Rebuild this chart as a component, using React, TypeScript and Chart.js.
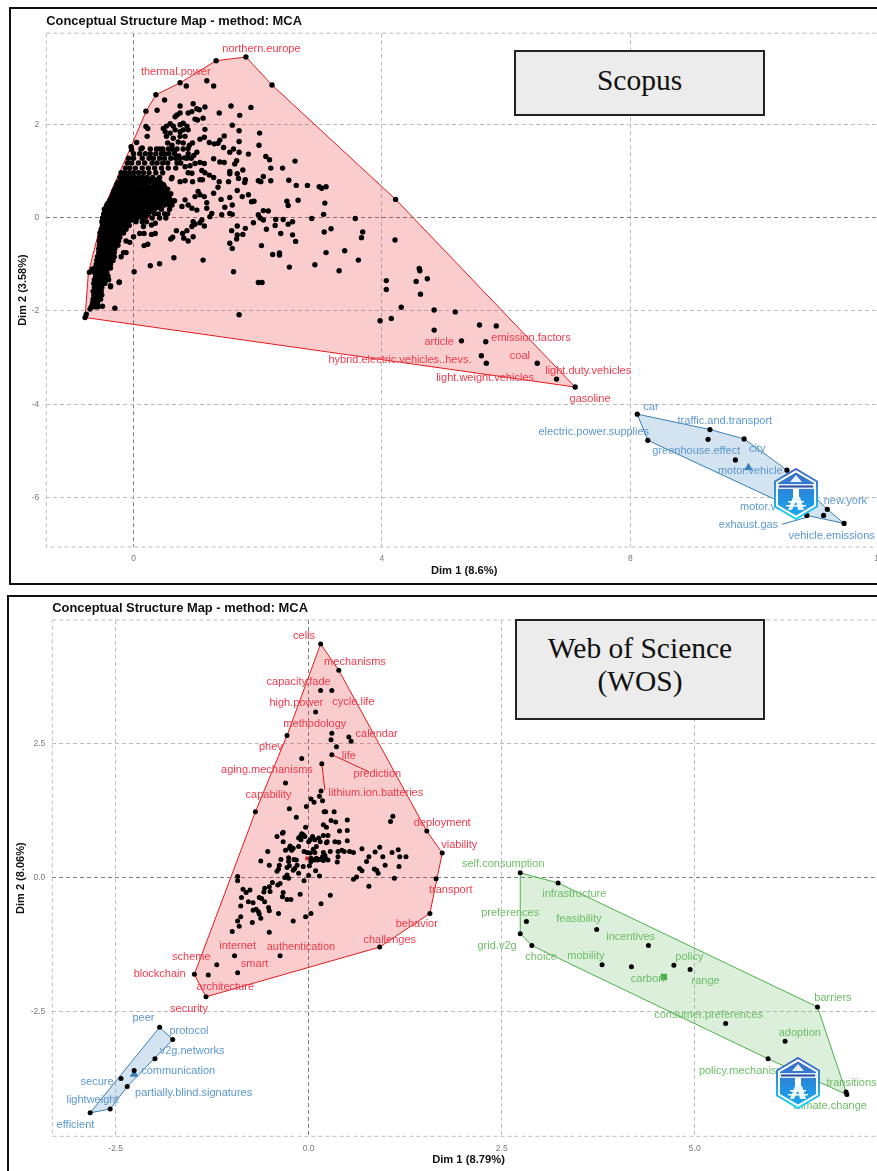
import React, { useEffect, useRef } from "react";
import { Chart, registerables } from "chart.js";
Chart.register(...registerables);

type Pt = [number, number];
type Lab = [string, number, number];

// ---------- Scopus map: cluster 1 (red) ----------
const scopusRedUpper: Pt[] = [[-0.78,-2.14],[-0.727,-1.19],[-0.443,0.31],[-0.04,1.52],[0.2,2.27],[0.36,2.63],[0.754,2.89],[1.33,3.36],[1.81,3.44],[2.23,2.84],[4.22,0.39],[7.11,-3.63]];
const scopusRedLower: Pt[] = [[-0.78,-2.14],[7.11,-3.63]];
const scopusSparse: Pt[] = [
[1.33,3.36],[1.81,3.44],[.75,2.89],[.85,2.82],[1.18,2.93],[1.29,2.82],[2.23,2.84],[.36,2.63],[.5,2.52],[.2,2.28],[.38,2.3],[.75,2.39],[.96,2.44],[1.15,2.37],[1.57,2.39],[1.89,2.36],[1.38,2.24],[1.71,2.19],[1.02,2.33],[1.06,2.31],[.94,2.27],[.88,2.24],[.7,2.2],[.75,2.24],[.67,2.16],[.99,2.11],[1.12,2.13],[1.03,2.09],[1.59,1.98],[1.7,1.86],[1.15,1.89],[2.03,1.81],[2.02,1.55],[.2,1.95],[.23,1.91],[.22,1.74],[.05,1.61],[-.04,1.52],[-.03,1.45],[.14,1.49],
[.48,1.91],[.53,1.96],[.59,2.01],[.64,1.96],[.51,1.84],[.59,1.81],[.67,1.88],[.75,1.99],[.8,2.02],[.86,1.96],[.88,1.88],[.8,1.88],[.75,1.84],[.53,1.74],[.64,1.7],[.75,1.74],[.83,1.74],[1.07,1.68],[1.14,1.72],[1.22,1.61],[1.3,1.58],[1.39,1.66],[1.46,1.75],[1.36,1.59],[1.45,1.5],[1.55,1.4],[1.61,1.47],[1.7,1.63],[1.7,1.4],[1.85,1.36],[2.13,1.31],[2.19,1.24],[2.6,1.21],[2.21,1.06],[2.4,1.06],[1.29,1.26],[1.39,1.19],[1.46,1.18],[1.66,1.22],[1.63,1.15],[1.55,.99],[1.55,.94],[1.67,.94],[1.69,.84],[1.76,1.02],[1.8,.81],[1.79,.75],[1.53,.77],
[2.01,.79],[2.05,.77],[2.09,.88],[2.21,.79],[2.5,.8],[2.62,.69],[2.8,.69],[2.99,.66],[3.03,.63],[3.1,.66],[3.08,.31],[3.06,.07],[4.22,.39],[2.65,.37],[2.47,.35],[2.49,.26],[1.9,.34],[1.94,.35],[1.85,.49],[1.75,.45],[1.67,.58],[1.55,.43],[1.59,.27],[1.41,.39],[1.29,.52],[1.36,.65],[1.18,.32],[1.38,.77],[1.29,.86],[1.22,.91],[1.15,.96],[1.1,1.01],[1.07,.81],[1.11,.81],[.95,.77],[.83,.79],[.75,.77],[.61,.83],[.88,.96],[.94,.95],[.83,1.09],[1.14,1.16],[1.07,1.18],[.99,1.16],[.91,1.11],[1.04,.56],[.99,.45],[1.07,.49],[1.14,.45],[.83,.38],[.78,.24],[.88,.27],[.94,.2],[1.02,.16],[1.18,.2],[1.26,.09],[1.23,.02],[1.42,.06],[1.47,.22],[1.55,.09],[1.59,.07],
[2.01,.06],[2.09,.15],[2.17,.14],[2.04,-.01],[2.09,-.05],[2.29,-.04],[2.41,-.04],[2.56,-.09],[2.49,-.14],[2.28,-.17],[2.14,-.25],[1.93,-.11],[1.8,-.23],[1.67,-.18],[1.58,-.28],[1.67,-.37],[1.66,-.46],[1.76,-.36],[2.37,-.34],[2.56,-.37],[2.61,-.51],[2.87,-.02],[3.57,-.02],[3.18,-.24],[3.07,-.31],[3.69,-.31],[3.67,-.43],[4.21,-.48],[1.55,-.55],[1.59,-.66],[2.06,-.6],[2.24,-.79],[2.35,-.76],[2.35,-.8],[3.1,-.75],[3.4,-.71],[3.62,-.91],[2.92,-1.01],[2.51,-1.06],[3.31,-1.14],[1.12,-.91],[1.61,-1.16],[.65,-.86],[.42,-.99],[.27,-1.03],[.01,-1.16],[2.01,-1.39],[2.07,-1.39],[-.23,-1.39],[-.37,-1.46],[4.07,-1.35],[4.07,-1.54],[4.55,-1.37],[4.6,-1.09],[4.61,-1.14],[4.73,-1.31],[4.62,-1.64],[.17,-.6],[.23,-.57],[.6,-.46],[.63,-.42],[.69,-.28],[.79,-.34],[.86,-.28],[.81,-.44],[.88,-.5],[.96,-.41],[.94,-.19],[.99,-.14],[1.14,-.18],[1.07,-.11],[.96,-.09],[1.1,-.05],[.16,-.19],[.21,-.09],[.29,-.16],[.35,-.12],[.1,-.34],[.17,-.34],[.29,-.36],[.35,-.34],[0,-.41],[-.06,-.53],
[5.18,-2.02],[5.57,-2.3],[5.84,-2.32],[5.28,-2.64],[5.67,-2.66],[5.6,-2.96],[5.68,-3.12],[6.5,-3.12],[6.81,-3.46],[7.11,-3.63],[1.7,-2.08],[3.97,-2.21],[4.15,-2.16],[4.31,-1.92],[4.84,-1.98],[4.84,-2.41],
[-.5,-1.9],[-.3,-1.94],[-.37,-1.48],[-.23,-1.38],[-.78,-2.14],[-.76,-2.07],[-.7,-1.96],[-.71,-1.17],[-.66,-1.1],
[.55,1.6],[.62,1.55],[.72,1.62],[.8,1.6],[.9,1.55],[.88,1.48],[.65,1.44],[.73,1.32],[.82,1.28],[.97,1.33],[1.02,1.4],[.95,1.6],
];
// Dense band of the same cluster, read row by row: [Dim 2, Dim 1 values]
const scopusDenseRows: [number, number[]][] = [
[1.47,[.12,.27,.37,.42,.47,.56,.62,.7,.8]],
[1.37,[.0,.1,.19,.27,.36,.45,.5,.57,.66,.88]],
[1.27,[-.08,.0,.14,.25,.32,.42,.5,.6,.68,.74,.86,.93]],
[1.17,[-.1,-.03,.08,.18,.3,.38,.47,.55,.7,.76]],
[1.06,[-.13,-.06,.03,.14,.24,.34,.45,.56,.68]],
[.96,[-.2,-.14,-.07,.0,.08,.16,.25,.36,.47]],
[.86,[-.22,-.16,-.1,-.04,.02,.09,.15,.22,.31,.42,.62]],
[.81,[-.2,-.12,-.05,.03,.12,.2,.28,.38]],
[.76,[-.25,-.19,-.13,-.07,-.01,.05,.11,.17,.24,.3,.36,.43]],
[.71,[-.27,-.2,-.12,-.04,.04,.14,.21,.33,.41,.48]],
[.66,[-.28,-.23,-.17,-.11,-.05,.01,.07,.13,.19,.25,.31,.38,.44,.5]],
[.61,[-.3,-.22,-.15,-.07,.0,.08,.16,.24,.31,.39,.46,.55]],
[.56,[-.32,-.26,-.2,-.14,-.08,-.02,.04,.1,.16,.22,.28,.34,.4,.47,.53]],
[.51,[-.33,-.24,-.18,-.09,-.03,.05,.12,.21,.27,.36,.44,.52,.6]],
[.46,[-.34,-.28,-.22,-.17,-.11,-.05,.01,.07,.13,.18,.24,.3,.36,.42,.48,.54]],
[.41,[-.36,-.27,-.2,-.12,-.04,.05,.11,.19,.28,.34,.4,.46,.52,.58]],
[.36,[-.38,-.3,-.25,-.19,-.13,-.08,-.02,.03,.09,.15,.2,.26,.31,.37,.43,.49,.55,.61,.66]],
[.31,[-.41,-.34,-.23,-.15,-.06,.02,.1,.17,.25,.33,.4,.47,.56]],
[.27,[-.43,-.38,-.32,-.27,-.22,-.16,-.11,-.05,.0,.06,.12,.18,.24,.3,.36,.42,.5,.58,.62]],
[.22,[-.44,-.36,-.28,-.2,-.1,-.01,.08,.15,.22,.29,.39]],
[.18,[-.47,-.41,-.36,-.3,-.25,-.19,-.13,-.08,-.03,.04,.1,.18,.26,.34,.45,.58]],
[.13,[-.46,-.39,-.33,-.23,-.15,-.06,.03,.13,.21,.3]],
[.08,[-.48,-.42,-.37,-.31,-.26,-.2,-.14,-.09,-.04,.02,.1,.16,.24,.34,.4,.5,.55]],
[.03,[-.47,-.4,-.29,-.18,-.07,.01,.09,.2]],
[-.01,[-.5,-.45,-.39,-.33,-.28,-.22,-.17,-.11,-.06,-.02,.06,.15,.3,.42,.52]],
[-.05,[-.49,-.42,-.31,-.2,-.1,-.03]],
[-.09,[-.51,-.46,-.4,-.35,-.29,-.24,-.18,-.13,-.08,.04,.14]],
[-.13,[-.48,-.37,-.26,-.15]],
[-.17,[-.5,-.44,-.38,-.33,-.27,-.21,-.16,-.11,-.07]],
[-.21,[-.49,-.39,-.28,-.18]],
[-.25,[-.52,-.47,-.41,-.36,-.3,-.25,-.2,-.15,-.12]],
[-.29,[-.5,-.39,-.28,-.18]],
[-.33,[-.54,-.48,-.43,-.37,-.32,-.26,-.21,-.16]],
[-.38,[-.51,-.4,-.3,-.24]],
[-.42,[-.54,-.49,-.44,-.38,-.33,-.28,-.22]],
[-.46,[-.52,-.42,-.31]],
[-.5,[-.55,-.5,-.45,-.39,-.34,-.29,-.24,-.12]],
[-.55,[-.52,-.41,-.31]],
[-.59,[-.55,-.5,-.44,-.39,-.33,-.28,-.25]],
[-.63,[-.53,-.42,-.32]],
[-.67,[-.56,-.51,-.46,-.4,-.35,-.3]],
[-.71,[-.53,-.43,-.33]],
[-.75,[-.56,-.5,-.45,-.41,-.36,-.31,-.16,-.12]],
[-.8,[-.55,-.44,-.34]],
[-.84,[-.58,-.53,-.47,-.42,-.37,-.31,-.2]],
[-.88,[-.56,-.46,-.36]],
[-.92,[-.59,-.54,-.49,-.44,-.38,-.33]],
[-.96,[-.57,-.47,-.39]],
[-1.0,[-.6,-.55,-.5,-.46,-.41,-.37]],
[-1.08,[-.62,-.57,-.52,-.47,-.42,-.37]],
[-1.17,[-.63,-.58,-.53,-.48,-.43]],
[-1.25,[-.61,-.56,-.51,-.47,-.41]],
[-1.33,[-.63,-.58,-.53,-.49,-.44,-.4]],
[-1.41,[-.64,-.59,-.54,-.5,-.46]],
[-1.5,[-.63,-.59,-.55,-.51]],
[-1.58,[-.65,-.6,-.56,-.52]],
[-1.66,[-.64,-.6,-.55,-.51]],
[-1.75,[-.65,-.61,-.57,-.53]],
[-1.83,[-.66,-.62,-.58]],
[-1.91,[-.68,-.64,-.6,-.57]],
];
const scopusRedCentre: Pt[] = [[.24,.02]];
const scopusRedLabels: Lab[] = [["northern.europe",2.06,3.61],["thermal.power",.68,3.11],["article",4.92,-2.66],["emission.factors",6.4,-2.58],["coal",6.22,-2.96],["hybrid.electric.vehicles..hevs.",4.29,-3.05],["light.duty.vehicles",7.32,-3.28],["light.weight.vehicles",5.66,-3.43],["gasoline",7.35,-3.88]];

// ---------- Scopus map: cluster 2 (blue) ----------
const scopusBlueUpper: Pt[] = [[8.11,-4.21],[9.28,-4.54],[9.83,-4.74],[10.52,-5.41],[11.17,-6.25],[11.44,-6.55]];
const scopusBlueLower: Pt[] = [[8.11,-4.21],[8.28,-4.77],[10.3,-6.02],[10.84,-6.38],[11.44,-6.55]];
const scopusBluePoints: Pt[] = [[8.11,-4.21],[9.28,-4.54],[9.83,-4.74],[9.25,-4.75],[8.28,-4.77],[9.69,-5.19],[11.17,-6.25],[11.11,-6.38],[10.84,-6.38],[11.44,-6.55],[10.52,-5.41]];
const scopusBlueCentre: Pt[] = [[9.9,-5.36]];
const scopusBlueLabels: Lab[] = [["car",8.33,-4.06],["traffic.and.transport",9.52,-4.36],["electric.power.supplies",7.41,-4.59],["greenhouse.effect",9.06,-5.0],["city",10.04,-4.96],["motor.vehicle",9.93,-5.43],["motor.vehicles",10.33,-6.2],["new.york",11.46,-6.06],["exhaust.gas",9.9,-6.59],["vehicle.emissions",11.24,-6.81]];
const scopusBlueLeader: Pt[] = [[10.44,-6.57],[10.84,-6.42]];

// ---------- WoS map: cluster 1 (red) ----------
const wosRedUpper: Pt[] = [[-1.48,-1.81],[-.69,1.23],[-.28,2.66],[.155,4.37],[.39,3.88],[1.53,.87],[1.73,.46]];
const wosRedLower: Pt[] = [[-1.48,-1.81],[-1.33,-2.23],[.92,-1.3],[1.57,-.67],[1.73,.46]];
const wosRedPoints: Pt[] = [
[.155,4.37],[.39,3.88],[.155,3.5],[.3,3.5],[.09,3.1],[-.28,2.66],[.3,2.7],[.29,2.58],[.52,2.63],[.55,2.55],[.36,2.45],[.3,2.3],[-.09,2.23],[.17,2.13],[-.3,1.77],[.16,1.62],[.14,1.52],[.18,1.44],[.03,1.47],[.07,1.41],[-.03,1.33],[-.25,1.29],[-.69,1.23],[.2,1.23],[.22,1.23],[.33,1.23],[-.16,1.13],[.29,1.07],[.35,1.04],[.5,1.08],[1.09,1.15],[1.06,1.05],[1.53,.87],[1.73,.46],
[-.04,.94],[.19,.99],[.23,.94],[.4,.87],[.5,.88],[-.33,.85],[-.34,.83],[-.41,.77],[-.33,.67],[-.09,.82],[-.11,.77],[-.13,.74],[-.07,.8],[-.05,.77],[.05,.77],[.02,.71],[0,.67],[.08,.71],[.19,.79],[.25,.79],[-.1,.71],[.15,.67],[.13,.74],[.23,.65],[.24,.67],[.34,.67],[.39,.66],[.5,.69],[.1,.58],[.06,.53],[-.24,.59],[-.25,.55],[-.2,.55],[-.3,.51],[-.22,.51],[-.13,.58],[-.53,.49],[-.06,.49],[-.02,.47],[.02,.46],[.08,.47],[.19,.47],[.21,.42],[.28,.49],[.18,.39],[.22,.36],[.25,.33],[.19,.32],[.14,.34],[.38,.49],[.43,.51],[.46,.49],[.53,.49],[.58,.47],[.69,.54],[.38,.39],[.37,.29],[.86,.48],[.92,.57],[.96,.39],[.78,.39],[.75,.3],[1.08,.47],[1.16,.52],[1.18,.39],[1.26,.39],[1.17,.21],[.99,.23],[.85,.16],[.88,.14],[.9,.08],[.66,.17],[.69,.13],[.62,.01],[.58,-.03],[1.11,-.01],[1.65,-.02],[.78,-.16],[.28,-.33],[.16,-.49],
[-.26,.37],[-.26,.3],[-.19,.34],[-.16,.33],[-.36,.34],[-.38,.23],[-.62,.31],[-.51,.23],[-.25,.22],[-.28,.19],[-.39,.16],[-.41,.12],[-.15,.23],[-.18,.17],[-.2,.14],[-.07,.21],[.01,.22],[.03,.36],[.07,.33],[.1,.36],[.03,.3],[.11,.33],[.09,.13],[.14,.03],[0,.04],[-.06,-.06],[-.13,.08],[-.28,.05],[-.31,0],[-.26,-.01],[-.92,.02],[-.92,-.06],[-.47,-.09],[-.51,-.17],[-.37,-.11],[-.4,-.14],[-.57,-.2],[-.58,-.27],[-.5,-.26],[-.85,-.22],[-.81,-.28],[-.76,-.23],[-.87,-.37],[-.33,-.28],[-.34,-.36],[-.28,-.41],[-.23,-.41],[-.11,-.31],[-.64,-.37],[-.61,-.39],[-.57,-.45],[-.78,-.45],[-.72,-.47],[-.88,-.53],[-.52,-.56],[-.51,-.62],[-.72,-.61],[-.68,-.59],[-.65,-.64],[-.64,-.68],[-.62,-.76],[-.39,-.67],[.03,-.67],[-.04,-.73],[-.2,-.81],[-.88,-.73],[-.92,-.81],[-.9,-.91],[-.73,-.84],[-.99,-1.01],[-.51,-1.02],
[1.57,-.67],[.92,-1.3],[-.37,-1.46],[-.96,-1.46],[-1.19,-1.63],[-.92,-1.78],[-1.3,-1.82],[-1.48,-1.81],[-1.33,-2.23],
];
const wosRedCentre: Pt[] = [[-.02,.36]];
const wosRedLabels: Lab[] = [["cells",-.06,4.53],["mechanisms",.6,4.03],["capacity.fade",-.13,3.66],["high.power",-.16,3.26],["cycle.life",.58,3.28],["methodology",.08,2.88],["calendar",.88,2.69],["phev",-.49,2.44],["life",.52,2.28],["aging.mechanisms",-.54,2.01],["prediction",.89,1.94],["lithium.ion.batteries",.87,1.59],["capability",-.52,1.55],["deployment",1.73,1.03],["viability",1.95,.61],["transport",1.84,-.23],["behavior",1.4,-.86],["challenges",1.05,-1.17],["internet",-.92,-1.27],["authentication",-.1,-1.29],["scheme",-1.52,-1.49],["smart",-.7,-1.62],["blockchain",-1.93,-1.81],["architecture",-1.08,-2.04],["security",-1.55,-2.46]];
const wosPredictionLeader: Pt[] = [[.3,2.3],[.78,1.98]];
const wosLithiumLeader: Pt[] = [[.17,2.13],[.21,1.64]];

// ---------- WoS map: cluster 2 (blue) ----------
const wosBlueUpper: Pt[] = [[-2.83,-4.4],[-1.93,-2.8],[-1.76,-3.03]];
const wosBlueLower: Pt[] = [[-2.83,-4.4],[-2.57,-4.33],[-2.35,-3.91],[-1.76,-3.03]];
const wosBluePoints: Pt[] = [[-1.93,-2.8],[-1.76,-3.03],[-1.99,-3.39],[-2.26,-3.61],[-2.43,-3.76],[-2.35,-3.91],[-2.57,-4.33],[-2.83,-4.4]];
const wosBlueCentre: Pt[] = [[-2.26,-3.68]];
const wosBlueLabels: Lab[] = [["peer",-2.14,-2.63],["protocol",-1.55,-2.87],["v2g.networks",-1.51,-3.25],["communication",-1.69,-3.61],["secure",-2.74,-3.82],["partially.blind.signatures",-1.49,-4.02],["lightweight",-2.8,-4.16],["efficient",-3.02,-4.63]];

// ---------- WoS map: cluster 3 (green) ----------
const wosGreenUpper: Pt[] = [[2.74,-1.05],[2.74,.09],[3.23,-.1],[6.59,-2.42],[6.97,-4.06]];
const wosGreenLower: Pt[] = [[2.74,-1.05],[2.89,-1.27],[5.95,-3.39],[6.97,-4.06]];
const wosGreenPoints: Pt[] = [[2.74,.09],[3.23,-.1],[2.82,-.82],[2.74,-1.05],[2.89,-1.27],[3.73,-.97],[4.4,-1.27],[3.8,-1.63],[4.18,-1.67],[4.73,-1.64],[4.94,-1.72],[5.4,-2.73],[5.95,-3.39],[6.17,-3.06],[6.59,-2.42],[6.96,-4.01],[6.97,-4.06]];
const wosGreenCentre: Pt[] = [[4.6,-1.86]];
const wosGreenLabels: Lab[] = [["self.consumption",2.52,.26],["infrastructure",3.44,-.31],["preferences",2.61,-.67],["feasibility",3.5,-.78],["incentives",4.17,-1.11],["grid.v2g",2.44,-1.27],["choice",3.01,-1.49],["mobility",3.59,-1.47],["policy",4.93,-1.49],["carbon",4.39,-1.89],["range",5.14,-1.93],["consumer.preferences",5.18,-2.57],["barriers",6.79,-2.25],["adoption",6.36,-2.9],["policy.mechanisms",5.65,-3.61],["transitions",7.03,-3.85],["climate.change",6.75,-4.28]];

// ---------- Ticks and titles ----------
const scopusXTicks = [0, 4, 8, 12];
const scopusYTicks = [-6, -4, -2, 0, 2];
const wosXTicks = [-2.5, 0, 2.5, 5];
const wosYTicks = [-2.5, 0, 2.5];
const chartTitle = "Conceptual Structure Map - method: MCA";
const scopusAxisTitles = ["Dim 1 (8.6%)", "Dim 2 (3.58%)"];
const wosAxisTitles = ["Dim 1 (8.79%)", "Dim 2 (8.06%)"];

const RED = "#e41a1c", BLUE = "#377eb8", GREEN = "#4daf4a";
const TXT_RED = "#f23a4c", TXT_BLUE = "#5c98d0", TXT_GREEN = "#6dbd66";
const FILL_RED = "rgba(228,26,28,0.22)", FILL_BLUE = "rgba(55,126,184,0.22)", FILL_GREEN = "rgba(77,175,74,0.2)";
const FONT = '"Liberation Sans", Arial, sans-serif';

const xy = (p: Pt[]) => p.map(([x, y]) => ({ x, y }));

const hull = (up: Pt[], low: Pt[], line: string, fill: string) => [
  { data: xy(up), showLine: true, pointRadius: 0, borderColor: line, borderWidth: 1, tension: 0, fill: "+1", backgroundColor: fill, order: 9 },
  { data: xy(low), showLine: true, pointRadius: 0, borderColor: line, borderWidth: 1, tension: 0, fill: false, order: 9 },
];
const dots = (p: Pt[], r: number) => ({ data: xy(p), pointRadius: r, pointHoverRadius: r, pointBackgroundColor: "#000", pointBorderWidth: 0, order: 3 });
const marker = (p: Pt[], color: string, style: string, r: number) => ({ data: xy(p), pointStyle: style, pointRadius: r, pointBackgroundColor: color, pointBorderWidth: 0, order: 4 });
const leader = (p: Pt[], color: string) => ({ data: xy(p), showLine: true, pointRadius: 0, borderColor: color, borderWidth: 1, tension: 0, fill: false, order: 6 });

const framePlugin = {
  id: "frame",
  beforeDatasetsDraw(c: any) {
    const { ctx, chartArea: a } = c;
    ctx.save();
    ctx.strokeStyle = "#bdbdbd";
    ctx.lineWidth = 1;
    ctx.setLineDash([4, 3]);
    ctx.strokeRect(a.left, a.top, a.right - a.left, a.bottom - a.top);
    ctx.restore();
  },
};
const labelPlugin = (groups: [Lab[], string][]) => ({
  id: "words",
  afterDatasetsDraw(c: any) {
    const { ctx, scales } = c;
    ctx.save();
    ctx.font = `11px ${FONT}`;
    ctx.textAlign = "center";
    ctx.textBaseline = "middle";
    for (const [labels, color] of groups) {
      ctx.fillStyle = color;
      for (const [t, x, y] of labels) ctx.fillText(t, scales.x.getPixelForValue(x), scales.y.getPixelForValue(y));
    }
    ctx.restore();
  },
});

interface MapProps {
  left: number; top: number; width: number; height: number;
  datasets: any[]; groups: [Lab[], string][];
  xr: [number, number]; yr: [number, number]; xTicks: number[]; yTicks: number[]; dec: number;
  axisLeft: number; axisBottom: number; padRight: number; titleTop: number; titleBottom: number;
  axisTitles: string[];
}

function MapChart(p: MapProps) {
  const ref = useRef<HTMLCanvasElement>(null);
  useEffect(() => {
    const fmt = (v: any) => Number(v).toFixed(p.dec);
    const gridColor = (ctx: any) => (ctx.tick && ctx.tick.value === 0 ? "#808080" : "#bdbdbd");
    const chart = new Chart(ref.current as HTMLCanvasElement, {
      type: "scatter",
      data: { datasets: p.datasets },
      plugins: [framePlugin, labelPlugin(p.groups)],
      options: {
        animation: false,
        responsive: false,
        devicePixelRatio: 1,
        layout: { padding: { right: p.padRight, left: 0, top: 0, bottom: 0 } },
        plugins: {
          legend: { display: false },
          tooltip: { enabled: false },
          title: {
            display: true, text: chartTitle, align: "start", fullSize: false, color: "#111",
            font: { family: FONT, size: 12.9, weight: "bold", lineHeight: 1.1 },
            padding: { top: p.titleTop, bottom: p.titleBottom },
          },
        },
        scales: {
          x: {
            type: "linear", min: p.xr[0], max: p.xr[1], bounds: "data",
            afterBuildTicks: (s: any) => { s.ticks = p.xTicks.map((value) => ({ value })); },
            grid: { color: gridColor, lineWidth: 1, drawTicks: false },
            border: { display: false, dash: [4, 3] },
            ticks: { autoSkip: false, maxRotation: 0, padding: 7, color: "#7a7a7a", font: { family: FONT, size: 8.5 }, callback: fmt },
            title: { display: true, text: p.axisTitles[0], color: "#111", font: { family: FONT, size: 11.2, weight: "bold", lineHeight: 1 }, padding: { top: 0, bottom: 6 } },
            afterFit: (s: any) => { s.height = p.axisBottom; },
          },
          y: {
            type: "linear", min: p.yr[0], max: p.yr[1], bounds: "data",
            afterBuildTicks: (s: any) => { s.ticks = p.yTicks.map((value) => ({ value })); },
            grid: { color: gridColor, lineWidth: 1, drawTicks: false },
            border: { display: false, dash: [4, 3] },
            ticks: { autoSkip: false, padding: 7, color: "#7a7a7a", font: { family: FONT, size: 8.5 }, callback: fmt },
            title: { display: true, text: p.axisTitles[1], color: "#111", font: { family: FONT, size: 11, weight: "bold", lineHeight: 1 }, padding: { top: 6, bottom: 0 } },
            afterFit: (s: any) => { s.width = p.axisLeft; },
          },
        },
      } as any,
    } as any);
    return () => chart.destroy();
  }, []);
  return <canvas ref={ref} width={p.width} height={p.height} style={{ position: "absolute", left: p.left, top: p.top, width: p.width, height: p.height, display: "block", filter: "blur(0.35px)" }} />;
}

function Logo({ cx, cy, id }: { cx: number; cy: number; id: string }) {
  return (
    <svg width={46} height={52} viewBox="0 0 46 52" style={{ position: "absolute", left: cx - 23, top: cy - 26 }}>
      <defs>
        <linearGradient id={id + "a"} x1="0" y1="0" x2="0" y2="1">
          <stop offset="0" stopColor="#3f63c0" /><stop offset="1" stopColor="#16d3fb" />
        </linearGradient>
        <linearGradient id={id + "b"} x1="0" y1="0" x2="0" y2="1">
          <stop offset="0" stopColor="#3c6cc9" /><stop offset="1" stopColor="#15a8f0" />
        </linearGradient>
      </defs>
      <polygon points="23,1 44,13.5 44,38.5 23,51 2,38.5 2,13.5" fill="#fff" stroke={`url(#${id}a)`} strokeWidth="2" />
      <polygon points="23,4.5 41,15 41,37 23,47.5 5,37 5,15" fill={`url(#${id}b)`} />
      <rect x="4" y="16" width="38" height="5" fill="#dfe9f8" />
      <rect x="6" y="17.5" width="34" height="2" fill="#2b4f9e" />
      <polygon points="23,7 29,14 17,14" fill="#e8f2ff" />
      <rect x="20" y="21" width="6" height="8" fill="#ffffff" />
      <polygon points="20,29 27,29 31,42 25,42 23,33 19,42 15,42" fill="#e8f4ff" />
      <rect x="15" y="33" width="16" height="1.5" fill="#fff" />
      <rect x="13" y="37" width="20" height="1.5" fill="#fff" />
    </svg>
  );
}

const panelBox = (left: number, top: number, height: number): React.CSSProperties => ({
  position: "absolute", left, top, width: 900, height, border: "2px solid #111", boxSizing: "border-box", background: "#fff",
});
const noteBox = (left: number, top: number, w: number, h: number, shift: number): React.CSSProperties => ({
  position: "absolute", left, top, width: w, height: h, boxSizing: "border-box", border: "2px solid #222", background: "#ececec", paddingBottom: shift,
  display: "flex", alignItems: "center", justifyContent: "center", textAlign: "center",
  fontFamily: '"Liberation Serif", "Times New Roman", serif', fontSize: 29.5, lineHeight: "33px", color: "#111",
});

export default function App() {
  const scopusAll: Pt[] = [...scopusSparse, ...scopusDenseRows.flatMap(([y, xs]) => xs.map((x) => [x, y] as Pt))];
  return (
    <div style={{ position: "absolute", left: 0, top: 0, width: 877, height: 1171, overflow: "hidden", background: "#fff" }}>
      <div style={panelBox(9, 7, 578)} />
      <div style={panelBox(7, 595, 580)} />
      <MapChart
        left={11} top={9} width={890} height={574}
        datasets={[
          ...hull(scopusRedUpper, scopusRedLower, RED, FILL_RED),
          ...hull(scopusBlueUpper, scopusBlueLower, BLUE, FILL_BLUE),
          dots(scopusAll, 2.7),
          dots(scopusBluePoints, 2.6),
          marker(scopusRedCentre, RED, "rect", 2.5),
          marker(scopusBlueCentre, BLUE, "triangle", 5),
          leader(scopusBlueLeader, BLUE),
        ]}
        groups={[[scopusRedLabels, TXT_RED], [scopusBlueLabels, TXT_BLUE]]}
        xr={[-1.404, 12.05]} yr={[-7.056, 3.95]} xTicks={scopusXTicks} yTicks={scopusYTicks} dec={0}
        axisLeft={35.3} axisBottom={36} padRight={19} titleTop={5} titleBottom={5}
        axisTitles={scopusAxisTitles}
      />
      <MapChart
        left={9} top={597} width={890} height={575}
        datasets={[
          ...hull(wosRedUpper, wosRedLower, RED, FILL_RED),
          ...hull(wosBlueUpper, wosBlueLower, BLUE, FILL_BLUE),
          ...hull(wosGreenUpper, wosGreenLower, GREEN, FILL_GREEN),
          dots(wosRedPoints, 2.5),
          dots(wosBluePoints, 2.5),
          dots(wosGreenPoints, 2.5),
          marker(wosRedCentre, RED, "rect", 2.5),
          marker(wosBlueCentre, BLUE, "triangle", 5),
          marker(wosGreenCentre, GREEN, "rect", 4.5),
          leader(wosPredictionLeader, RED),
          leader(wosLithiumLeader, RED),
        ]}
        groups={[[wosRedLabels, TXT_RED], [wosBlueLabels, TXT_BLUE], [wosGreenLabels, TXT_GREEN]]}
        xr={[-3.32, 7.46]} yr={[-4.84, 4.82]} xTicks={wosXTicks} yTicks={wosYTicks} dec={1}
        axisLeft={43.3} axisBottom={35.7} padRight={14.3} titleTop={4} titleBottom={4.8}
        axisTitles={wosAxisTitles}
      />
      <div style={noteBox(514, 50, 251, 66, 6)}>Scopus</div>
      <div style={noteBox(515, 619, 250, 101, 9)}>Web of Science<br />(WOS)</div>
      <Logo cx={796} cy={494} id="l1" />
      <Logo cx={798} cy={1083} id="l2" />
    </div>
  );
}
